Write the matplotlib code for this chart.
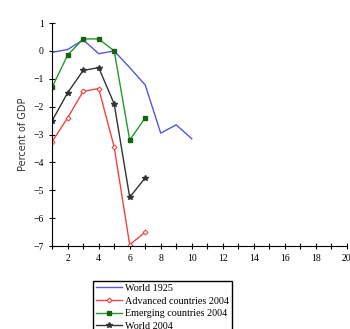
import matplotlib
matplotlib.use('Agg')
import matplotlib.pyplot as plt
from matplotlib.ticker import MultipleLocator

# --- data ---
x_1925 = [1, 2, 3, 4, 5, 6, 7, 8, 9, 10]
world_1925 = [-0.05, 0.05, 0.4, -0.1, 0.0, -0.6, -1.22, -2.95, -2.65, -3.15]

x_2004 = [1, 2, 3, 4, 5, 6, 7]
advanced_2004 = [-3.25, -2.4, -1.45, -1.35, -3.45, -6.95, -6.5]
emerging_2004 = [-1.3, -0.15, 0.43, 0.43, 0.0, -3.2, -2.4]
world_2004 = [-2.5, -1.5, -0.7, -0.6, -1.9, -5.25, -4.55]

fig = plt.figure(figsize=(3.5, 3.29), dpi=100)
ax = fig.add_axes([0.149, 0.252, 0.842, 0.678])

ax.plot(x_1925, world_1925, color='#5555dd', lw=1, label='World 1925')
ax.plot(x_2004, advanced_2004, color='#ee4444', lw=1, marker='D', ms=2.5,
        mfc='white', mew=0.8, label='Advanced countries 2004')
ax.plot(x_2004, emerging_2004, color='#22992a', lw=1, marker='s', ms=3,
        mfc='#116611', mec='#116611', label='Emerging countries 2004')
ax.plot(x_2004, world_2004, color='#333333', lw=1, marker='*', ms=4,
        label='World 2004')

ax.set_xlim(1, 20)
ax.set_ylim(-7, 1)
ax.xaxis.set_major_locator(MultipleLocator(2))
ax.xaxis.set_minor_locator(MultipleLocator(1))
ax.yaxis.set_major_locator(MultipleLocator(1))
ax.spines['top'].set_visible(False)
ax.spines['right'].set_visible(False)
ax.tick_params(direction='inout', length=5, width=0.8, labelsize=7)
ax.tick_params(which='minor', direction='inout', length=5, width=0.8)
for lab in ax.get_xticklabels() + ax.get_yticklabels():
    lab.set_family('Liberation Serif')
ax.set_ylabel('Percent of GDP', fontsize=7, family='DejaVu Sans', color='#333333')

fig.legend(loc='upper left', bbox_to_anchor=(0.251, 0.162), frameon=True,
           fancybox=False, edgecolor='black', framealpha=1, handlelength=2.6,
           borderpad=0.3, labelspacing=0.35, handletextpad=0.3,
           prop={'family': 'Liberation Serif', 'size': 7.3})

fig.savefig('out.png', dpi=100)
